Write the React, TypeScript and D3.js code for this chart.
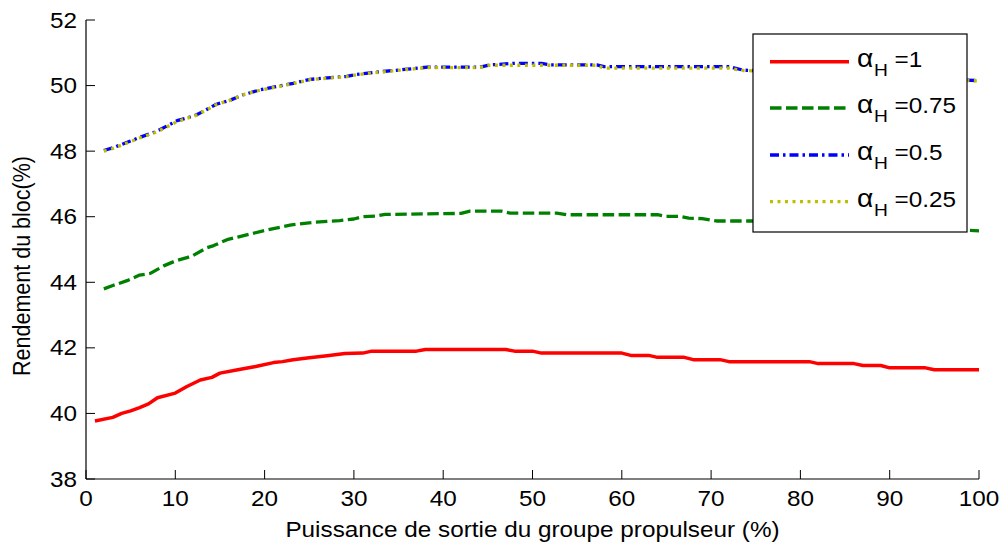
import React from "react";
import * as d3 from "d3";

// ---- data (x = output power %, y = block efficiency %) ----
const xTicks = [0, 10, 20, 30, 40, 50, 60, 70, 80, 90, 100];
const yTicks = [38, 40, 42, 44, 46, 48, 50, 52];

const redX = [1, 3, 4, 5, 6, 7, 8, 10, 11.3, 12.8, 14.1, 15, 17, 19, 21, 22, 23.2, 25, 27, 29, 31, 32, 37, 38, 47, 48, 50, 51, 60, 61, 63, 64, 67, 68, 71, 72, 81, 82, 86, 87, 89, 90, 94, 95, 100];
const redY = [39.77, 39.88, 40.0, 40.08, 40.18, 40.29, 40.48, 40.62, 40.82, 41.02, 41.1, 41.23, 41.33, 41.43, 41.55, 41.58, 41.64, 41.7, 41.76, 41.83, 41.84, 41.9, 41.9, 41.95, 41.95, 41.9, 41.9, 41.84, 41.84, 41.77, 41.77, 41.71, 41.71, 41.64, 41.64, 41.58, 41.58, 41.52, 41.52, 41.46, 41.46, 41.39, 41.39, 41.33, 41.33];

const greenX = [2, 3, 4.6, 6, 7.2, 8.7, 10, 11.3, 12, 13.5, 14.3, 15.8, 17, 20, 23, 25.5, 28.4, 30, 31, 32.5, 33.5, 42, 43, 46.5, 47.5, 52.7, 53.8, 64, 65, 66.5, 67.5, 69, 70.6, 74.7, 80, 90, 100];
const greenY = [43.8, 43.9, 44.05, 44.22, 44.27, 44.5, 44.65, 44.75, 44.82, 45.05, 45.12, 45.3, 45.38, 45.58, 45.75, 45.83, 45.88, 45.93, 46.0, 46.02, 46.07, 46.1, 46.17, 46.17, 46.11, 46.11, 46.06, 46.06, 46.01, 46.01, 45.96, 45.94, 45.87, 45.87, 45.8, 45.68, 45.57];

const blueX = [2, 3, 4.9, 6, 7.9, 10.2, 11.3, 12.4, 14.6, 16.1, 17.6, 19.5, 21.4, 23.2, 25.1, 27.7, 29.2, 30.3, 32.9, 36, 38.2, 44.1, 45.2, 48, 51, 52, 57.2, 58, 72, 73.6, 80, 90, 100];
const blueY = [48.02, 48.1, 48.3, 48.42, 48.6, 48.93, 49.01, 49.11, 49.43, 49.55, 49.72, 49.87, 49.97, 50.07, 50.19, 50.25, 50.28, 50.34, 50.42, 50.5, 50.56, 50.56, 50.63, 50.68, 50.68, 50.63, 50.63, 50.58, 50.58, 50.47, 50.4, 50.27, 50.15];

const yellowX = [2, 3, 4.9, 6, 7.9, 10.2, 11.3, 12.4, 14.6, 16.1, 17.6, 19.5, 21.4, 23.2, 25.1, 27.7, 29.2, 30.3, 32.9, 36, 38.2, 44.1, 45.2, 57.2, 58, 72, 73.6, 80, 90, 100];
const yellowY = [48.0, 48.08, 48.28, 48.4, 48.58, 48.9, 49.0, 49.1, 49.42, 49.55, 49.72, 49.86, 49.96, 50.06, 50.18, 50.24, 50.27, 50.33, 50.41, 50.49, 50.55, 50.55, 50.62, 50.62, 50.53, 50.53, 50.46, 50.39, 50.26, 50.14];

const seriesLabels = ["=1", "=0.75", "=0.5", "=0.25"];

const W = 1004;
const H = 548;
const FONT = "'Liberation Sans', Arial, sans-serif";
const FS = 21.5;
const SX = 1.13;

export default function App() {
  const x = d3.scaleLinear().domain([0, 100]).range([86, 979]);
  const y = d3.scaleLinear().domain([38, 52]).range([479, 20]);
  const line = d3
    .line<[number, number]>()
    .x((d) => x(d[0]))
    .y((d) => y(d[1]));

  const zip = (xs: number[], ys: number[]) => xs.map((v, i) => [v, ys[i]] as [number, number]);

  const series = [
    { data: zip(redX, redY), color: "#ff0000", dash: "none", width: 3.5 },
    { data: zip(greenX, greenY), color: "#008000", dash: "11.5,4.5", width: 3.3 },
    { data: zip(blueX, blueY), color: "#0000ff", dash: "9,4,2.5,4", width: 3.3 },
    { data: zip(yellowX, yellowY), color: "#bfbf00", dash: "3,4.5", width: 3.3 },
  ];

  const legX = 753, legY = 34, legW = 214, legH = 198;
  const rowY = [61.7, 108, 155, 201.7];

  return (
    <svg
      width={W}
      height={H}
      style={{ position: "absolute", left: 0, top: 0, background: "#fff" }}
      fontFamily={FONT}
    >
      <rect x={0} y={0} width={W} height={H} fill="#fff" />
      {/* series */}
      {series.map((s, i) => (
        <path
          key={i}
          d={line(s.data) || ""}
          fill="none"
          stroke={s.color}
          strokeWidth={s.width}
          strokeDasharray={s.dash}
          strokeLinecap="butt"
          strokeLinejoin="round"
        />
      ))}
      {/* axes */}
      <line x1={86} x2={86} y1={20} y2={479} stroke="#000" strokeWidth={1.2} />
      <line x1={86} x2={979} y1={479} y2={479} stroke="#000" strokeWidth={1.2} />
      {xTicks.map((t) => (
        <g key={"xt" + t}>
          <line x1={x(t)} x2={x(t)} y1={479} y2={470} stroke="#000" strokeWidth={1} />
          <text
            transform={`translate(${x(t)},506) scale(${SX},1)`}
            textAnchor="middle"
            fontSize={FS}
            fill="#000"
          >
            {t}
          </text>
        </g>
      ))}
      {yTicks.map((t) => (
        <g key={"yt" + t}>
          <line x1={86} x2={95} y1={y(t)} y2={y(t)} stroke="#000" strokeWidth={1} />
          <text
            transform={`translate(77,${y(t) + 7.5}) scale(${SX},1)`}
            textAnchor="end"
            fontSize={FS}
            fill="#000"
          >
            {t}
          </text>
        </g>
      ))}
      <text
        transform={`translate(${(86 + 979) / 2},537) scale(${SX},1)`}
        textAnchor="middle"
        fontSize={FS}
        fill="#000"
      >
        Puissance de sortie du groupe propulseur (%)
      </text>
      <text
        transform={`translate(30,266) scale(${SX},1) rotate(-90)`}
        textAnchor="middle"
        fontSize={FS}
        fill="#000"
      >
        Rendement du bloc(%)
      </text>
      {/* legend */}
      <rect x={legX} y={legY} width={legW} height={legH} fill="#fff" stroke="#000" strokeWidth={1.2} />
      {series.map((s, i) => (
        <g key={"lg" + i}>
          <line
            x1={770}
            x2={849}
            y1={rowY[i]}
            y2={rowY[i]}
            stroke={s.color}
            strokeWidth={s.width}
            strokeDasharray={s.dash}
            strokeLinecap="butt"
          />
          <text transform={`translate(857,${rowY[i] + 5}) scale(${SX},1)`} fontSize={FS} fill="#000">
            <tspan fontSize={25}>α</tspan>
            <tspan fontSize={17} dx={0.5} dy={9}>H</tspan>
            <tspan fontSize={FS} dy={-9}>{" " + seriesLabels[i]}</tspan>
          </text>
        </g>
      ))}
    </svg>
  );
}
